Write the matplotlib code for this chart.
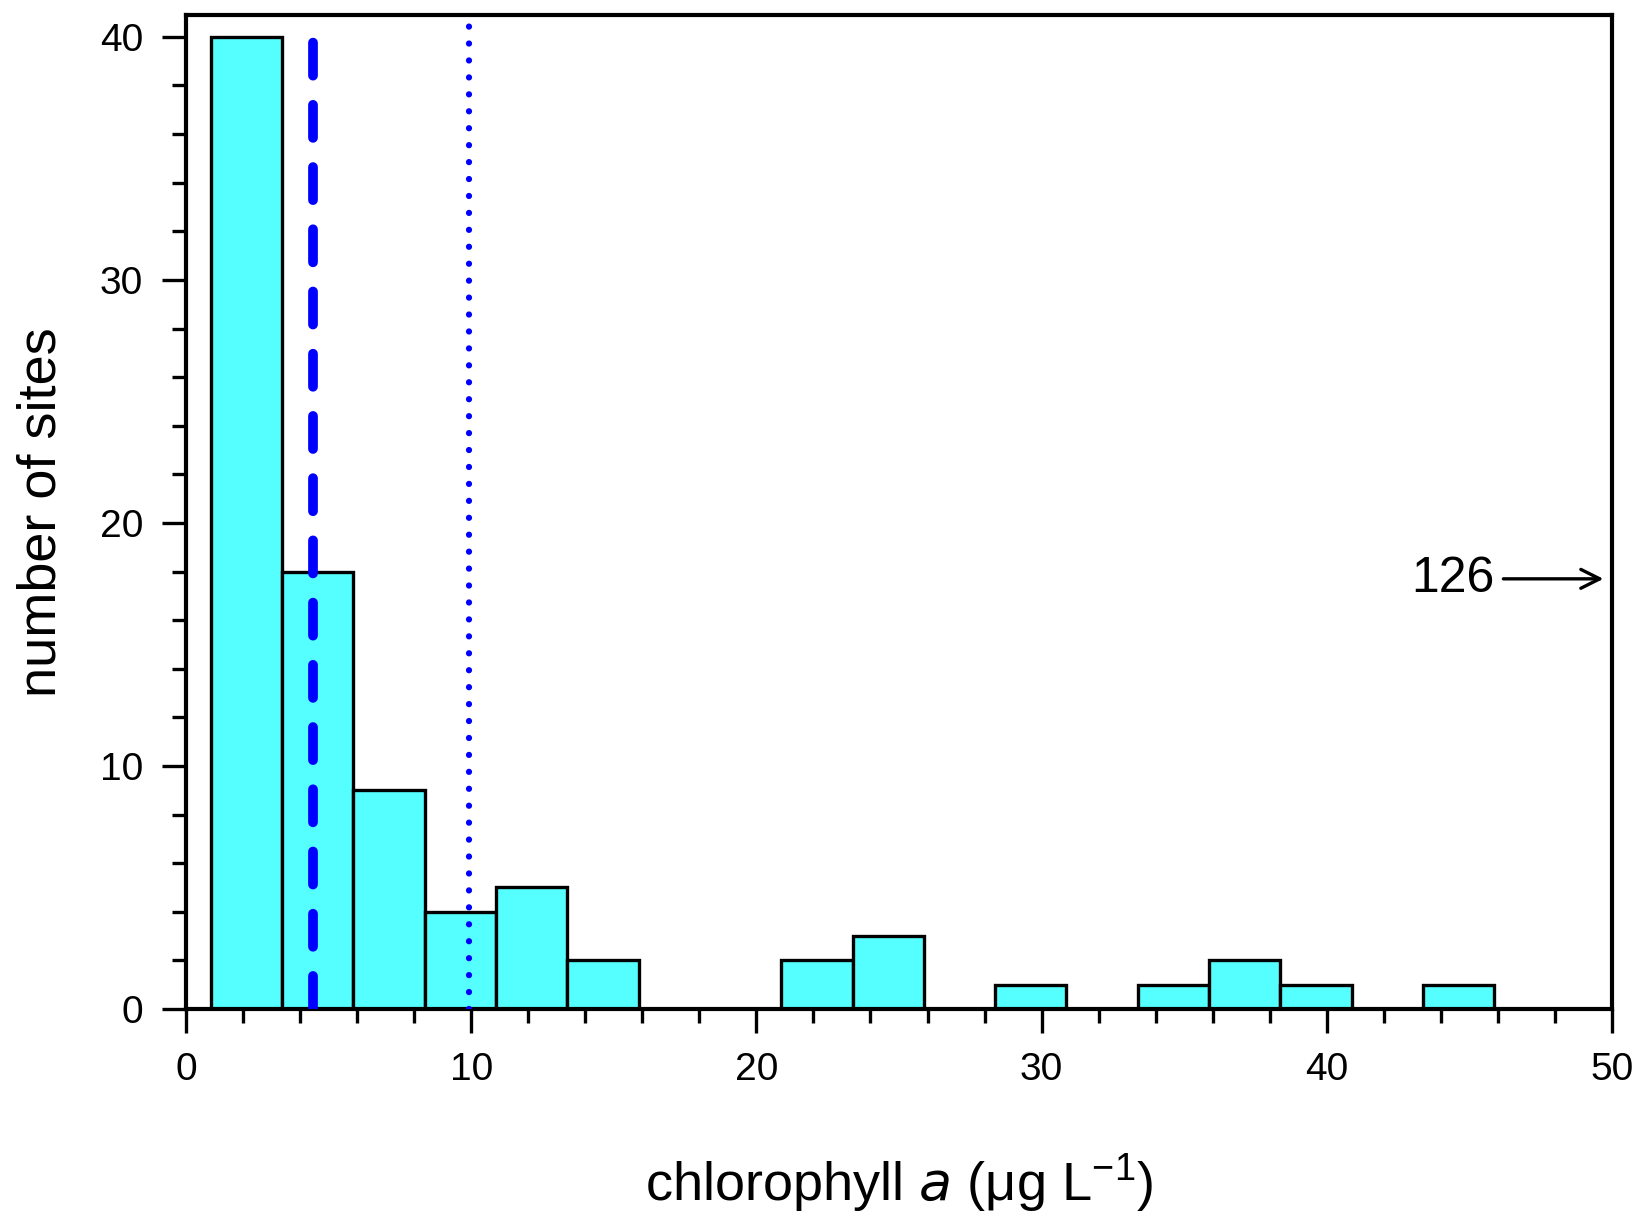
import numpy as np
import matplotlib.pyplot as plt
from matplotlib.ticker import MultipleLocator

plt.rcParams['font.family'] = ['Liberation Sans', 'DejaVu Sans']

# histogram bins (ug/L), 2.5 wide
bin_start = 0.87
bin_width = 2.5
counts = [40, 18, 9, 4, 5, 2, 0, 0, 2, 3, 0, 1, 0, 1, 2, 1, 0, 1]

median_chl = 4.44
threshold_chl = 9.93
off_scale_value = "126"
off_scale_y = 17.7

edges = bin_start + bin_width * np.arange(len(counts) + 1)

fig = plt.figure(figsize=(16.41, 12.21), dpi=100)
ax = fig.add_axes([186 / 1641, 1 - 1009 / 1221, (1612 - 186) / 1641, (1009 - 15) / 1221])

for left, c in zip(edges[:-1], counts):
    if c > 0:
        ax.bar(left, c, width=bin_width, align='edge', color='#55ffff',
               edgecolor='black', linewidth=2.4, zorder=2)

ax.axvline(median_chl, color='#0000ff', lw=7, dashes=(3.4, 3.0),
           dash_capstyle='round', zorder=3)
ax.axvline(threshold_chl, color='#0000ff', lw=4.5, dashes=(0.01, 2.7),
           dash_capstyle='round', zorder=3)

ax.annotate(off_scale_value, xy=(49.7, off_scale_y), xytext=(45.9, off_scale_y),
            fontsize=36, ha='right', va='center',
            arrowprops=dict(arrowstyle='->', lw=2.4, color='black',
                            mutation_scale=34, shrinkA=4, shrinkB=0))

ax.set_xlim(0, 50)
ax.set_ylim(0, 40.9)
ax.xaxis.set_major_locator(MultipleLocator(10))
ax.xaxis.set_minor_locator(MultipleLocator(2))
ax.yaxis.set_major_locator(MultipleLocator(10))
ax.yaxis.set_minor_locator(MultipleLocator(2))
ax.tick_params(which='both', direction='out', width=2.4, labelsize=28,
               top=False, right=False)
ax.tick_params(which='major', length=17, pad=14)
ax.tick_params(which='minor', length=10)
for s in ax.spines.values():
    s.set_linewidth(3)

ax.set_xlabel('chlorophyll $\\it{a}$ ($\\mathregular{\\mu}$g L$^{\\mathregular{-1}}$)',
              fontsize=39, labelpad=46)
ax.set_ylabel('number of sites', fontsize=39, labelpad=24)

fig.savefig('out.png', dpi=100)
